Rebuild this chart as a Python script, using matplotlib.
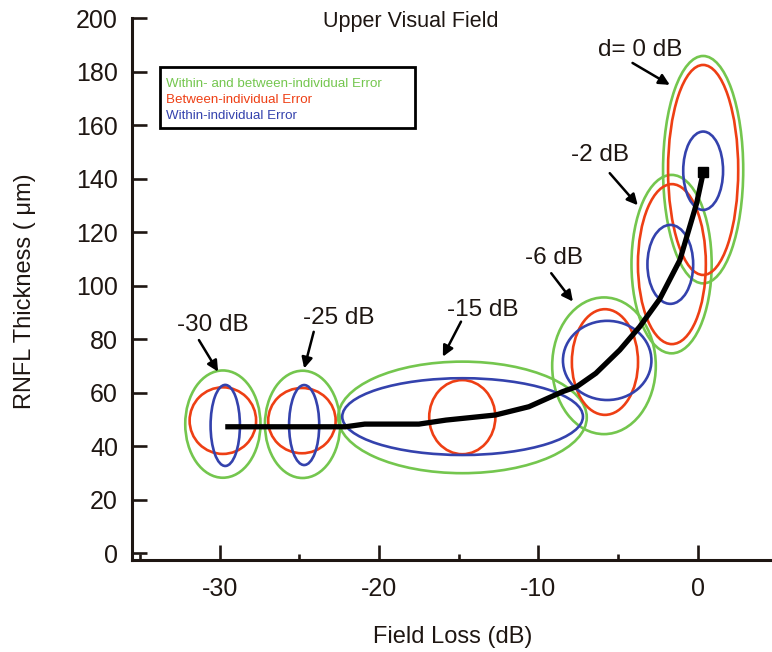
import matplotlib
matplotlib.use('Agg')
import matplotlib.pyplot as plt
from matplotlib.patches import Ellipse, Rectangle
from matplotlib.ticker import MultipleLocator

plt.rcParams['font.family'] = ['Liberation Sans', 'DejaVu Sans']
plt.rcParams['axes.unicode_minus'] = False

INK = '#1e1612'
GREEN = '#74c64e'
RED = '#ee3f14'
BLUE = '#3442ad'

# field loss levels (dB) and their labels
levels = [-30, -25, -15, -6, -2, 0]
level_labels = ['-30 dB', '-25 dB', '-15 dB', '-6 dB', '-2 dB', 'd= 0 dB']

# green: within- and between-individual error
green_x = [-29.8, -24.8, -14.77, -5.89, -1.65, 0.33]
green_y = [48.2, 48.1, 50.7, 70.0, 108.0, 143.3]
green_w = [4.72, 4.72, 15.6, 6.5, 5.03, 5.03]
green_h = [40.1, 40.1, 41.7, 51.1, 66.7, 85.0]

# red: between-individual error
red_x = [-29.8, -24.84, -14.78, -5.83, -1.63, 0.33]
red_y = [49.5, 49.5, 50.8, 71.4, 108.0, 143.2]
red_w = [4.17, 4.23, 4.15, 4.15, 4.26, 4.4]
red_h = [24.9, 24.4, 27.7, 39.5, 59.8, 78.5]

# blue: within-individual error
blue_x = [-29.65, -24.7, -14.76, -5.69, -1.73, 0.33]
blue_y = [47.7, 47.85, 51.0, 72.0, 107.9, 142.9]
blue_w = [1.84, 1.89, 15.1, 5.55, 2.87, 2.5]
blue_h = [30.3, 29.9, 28.7, 29.6, 29.5, 29.3]

# mean RNFL thickness curve
curve_x = [-29.65, -22.1, -20.9, -17.5, -15.8, -12.7, -10.6, -8.5, -7.6,
           -6.4, -4.9, -3.65, -2.39, -1.13, -0.08, 0.35]
curve_y = [47.2, 47.2, 48.2, 48.2, 49.7, 51.6, 54.7, 60.3, 62.2,
           67.2, 75.9, 84.6, 95.0, 109.5, 130.7, 142.6]

# label text positions and arrow tail/head (data units)
label_x = [-30.4, -22.5, -13.5, -9.0, -6.16, -3.65]
label_y = [85.2, 87.9, 90.8, 110.3, 148.8, 187.9]
arrow_tail = [(-31.3, 79.6), (-24.1, 82.7), (-14.86, 86.5), (-9.2, 104.6), (-5.53, 142.0), (-4.1, 183.2)]
arrow_head = [(-30.1, 67.8), (-24.7, 69.0), (-16.0, 73.4), (-7.84, 94.0), (-3.77, 130.0), (-1.76, 175.0)]

legend_labels = ['Within- and between-individual Error',
                 'Between-individual Error',
                 'Within-individual Error']
legend_colors = [GREEN, RED, BLUE]

fig = plt.figure(figsize=(7.72, 6.52), dpi=100)
ax = fig.add_axes([132 / 772, 92 / 652, 640 / 772, 542 / 652])

groups = [
    (green_x, green_y, green_w, green_h, GREEN),
    (red_x, red_y, red_w, red_h, RED),
    (blue_x, blue_y, blue_w, blue_h, BLUE),
]
for xs, ys, ws, hs, col in groups:
    for cx, cy, w, h in zip(xs, ys, ws, hs):
        ax.add_patch(Ellipse((cx, cy), w, h, fill=False, edgecolor=col, lw=1.9, zorder=2))

ax.plot(curve_x, curve_y, color='black', lw=3.8, solid_capstyle='butt', zorder=3)
ax.plot(curve_x[-1], curve_y[-1], marker='s', color='black', markersize=7, zorder=4)

for lab, lx, ly, tail, head in zip(level_labels, label_x, label_y, arrow_tail, arrow_head):
    ax.text(lx, ly, lab, ha='center', va='center', fontsize=17.5, color=INK)
    ax.annotate('', xy=head, xytext=tail,
                arrowprops=dict(arrowstyle='-|>', color='black', lw=1.8,
                                mutation_scale=16, shrinkA=0, shrinkB=0))

# legend box: black frame with coloured text lines
fig.patches.append(Rectangle((160 / 772, 1 - 128 / 652), 255 / 772, 61 / 652,
                             transform=fig.transFigure, fill=True, facecolor='white',
                             edgecolor='black', lw=2, zorder=5))
for i, (lab, c) in enumerate(zip(legend_labels, legend_colors)):
    fig.text(166 / 772, 1 - (84 + 16 * i) / 652, lab, ha='left', va='center',
             fontsize=9.6, color=c, zorder=6)

ax.set_xlim(-35.5, 4.65)
ax.set_ylim(-2.6, 200)
ax.xaxis.set_major_locator(MultipleLocator(10))
ax.xaxis.set_minor_locator(MultipleLocator(10, offset=5))
ax.yaxis.set_major_locator(MultipleLocator(20))

for side in ('top', 'right'):
    ax.spines[side].set_visible(False)
for side in ('left', 'bottom'):
    ax.spines[side].set_linewidth(2.2)
    ax.spines[side].set_color(INK)
ax.spines['left'].set_bounds(-2.6, 200)

ax.tick_params(axis='both', which='major', direction='in', length=11, width=1.9,
               colors=INK, labelsize=18)
ax.tick_params(axis='x', which='major', pad=12)
ax.tick_params(axis='y', which='major', pad=10)
ax.tick_params(axis='x', which='minor', direction='in', length=4.5, width=1.9, colors=INK)

fig.text(411 / 772, 1 - 22 / 652, 'Upper Visual Field', ha='center', va='center',
         fontsize=15.5, color=INK)
fig.text(25 / 772, 1 - 291 / 652, 'RNFL Thickness ( \u03bcm)', ha='center', va='center',
         rotation=90, fontsize=17, color=INK)
fig.text(453 / 772, 1 - 637 / 652, 'Field Loss (dB)', ha='center', va='center',
         fontsize=17, color=INK)

fig.savefig('out.png', dpi=100)
